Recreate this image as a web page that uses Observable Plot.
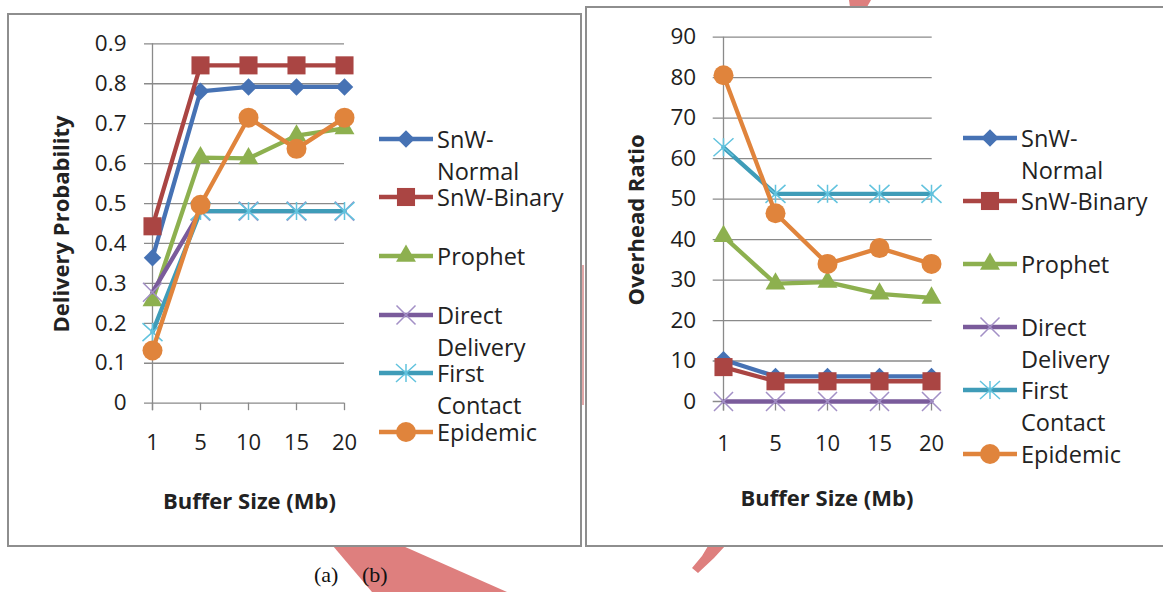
<!DOCTYPE html>
<html>
<head>
<meta charset="utf-8">
<script src="https://cdn.jsdelivr.net/npm/d3@7"></script>
<script src="https://cdn.jsdelivr.net/npm/@observablehq/plot@0.6"></script>
<style>
html, body { margin: 0; padding: 0; background: #fff; }
#page { position: relative; width: 1163px; height: 592px; overflow: hidden; font-family: "Open Sans", sans-serif; color: #222; }
.wm { position: absolute; left: 0; top: 0; width: 1163px; height: 592px; background: #de7f7e; }
.panel { position: absolute; box-sizing: border-box; border: 2px solid #8e8e8e; background: #fff; }
.plot { position: absolute; top: 0; }
.ytitle, .xtitle { position: absolute; font-weight: bold; font-size: 22px; white-space: nowrap; line-height: 1; }
.ytitle { transform: translate(-50%, -50%) rotate(-90deg); }
.xtitle { transform: translate(-50%, -50%); }
.item { position: absolute; }
.item svg { position: absolute; left: 0; }
.item .lab { position: absolute; font-size: 23.5px; line-height: 24px; white-space: nowrap; color: #222; }
.cap { position: absolute; font-family: "Liberation Serif", "Times New Roman", serif; font-size: 22px; color: #111; }
</style>
</head>
<body>
<div id="page"></div>
<script>
// ---- data ----
const buffer = [1, 5, 10, 15, 20];
const seriesNames = ["SnW-Normal", "SnW-Binary", "Prophet", "Direct Delivery", "First Contact", "Epidemic"];

// (a) Delivery Probability
const deliverySnwNormal = [0.364, 0.781, 0.792, 0.792, 0.792];
const deliverySnwBinary = [0.443, 0.846, 0.846, 0.846, 0.846];
const deliveryProphet   = [0.257, 0.615, 0.613, 0.670, 0.688];
const deliveryDirect    = [0.278, 0.481, 0.481, 0.481, 0.481];
const deliveryFirst     = [0.178, 0.481, 0.481, 0.481, 0.481];
const deliveryEpidemic  = [0.132, 0.497, 0.715, 0.637, 0.715];
const deliveryTicks = [0, 0.1, 0.2, 0.3, 0.4, 0.5, 0.6, 0.7, 0.8, 0.9];

// (b) Overhead Ratio
const overheadSnwNormal = [10.3, 6.2, 6.2, 6.2, 6.2];
const overheadSnwBinary = [8.5, 5.0, 5.0, 5.0, 5.0];
const overheadProphet   = [40.8, 29.1, 29.5, 26.6, 25.6];
const overheadDirect    = [0, 0, 0, 0, 0];
const overheadFirst     = [62.8, 51.3, 51.3, 51.3, 51.3];
const overheadEpidemic  = [80.6, 46.5, 34.0, 37.9, 34.0];
const overheadTicks = [0, 10, 20, 30, 40, 50, 60, 70, 80, 90];

const xTitle = "Buffer Size (Mb)";
const yTitleA = "Delivery Probability";
const yTitleB = "Overhead Ratio";

// ---- styles ----
const excelStar = {
  draw(ctx, size) {
    const r = Math.sqrt(size / Math.PI);
    const h = r * 0.9;
    ctx.moveTo(-r, -h); ctx.lineTo(r, h);
    ctx.moveTo(-r, h); ctx.lineTo(r, -h);
    ctx.moveTo(0, -h); ctx.lineTo(0, h);
  }
};
const styles = [
  {color: "#4672b4", symbol: "diamond2", d3sym: d3.symbolDiamond2, r: 7.9, filled: true},
  {color: "#aa4543", symbol: "square", d3sym: d3.symbolSquare, r: 10.2, filled: true},
  {color: "#8db04f", symbol: "triangle", d3sym: d3.symbolTriangle, r: 7.4, filled: true},
  {color: "#7a5b9b", mark: "#a390c6", symbol: "times", d3sym: d3.symbolTimes, r: 8.7, filled: false},
  {color: "#3f9cb8", mark: "#62c3de", symbol: excelStar, d3sym: excelStar, r: 10, filled: false},
  {color: "#e0843c", symbol: "circle", d3sym: d3.symbolCircle, r: 10, filled: true}
];
const gridColor = "#8a8a8a";

const page = document.getElementById("page");
function addDiv(cls, css, text) {
  const d = document.createElement("div");
  d.className = cls;
  Object.assign(d.style, css);
  if (text != null) d.textContent = text;
  page.appendChild(d);
  return d;
}

// watermark (decoration behind panels)
addDiv("wm", {clipPath: "polygon(849px 0px, 871px 0px, 867px 7px, 850px 7px)"});
addDiv("wm", {clipPath: "polygon(333px 546px, 403px 546px, 507px 592px, 372px 592px)"});
addDiv("wm", {clipPath: "polygon(708px 546px, 725px 546px, 714px 558px, 698px 573px, 692px 568px, 702px 556px)"});
addDiv("wm", {clipPath: "polygon(582px 265px, 584px 265px, 584px 405px, 582px 405px)", background: "#e3a8a8"});

// panels
addDiv("panel", {left: "7px", top: "13px", width: "575px", height: "534px"});
addDiv("panel", {left: "585px", top: "6px", width: "600px", height: "541px"});

function chart(seriesValues, o) {
  const marks = [
    Plot.ruleY(o.ticks, {stroke: gridColor, strokeWidth: 1.3}),
    Plot.ruleX([buffer[0]], {stroke: gridColor, strokeWidth: 1.3, insetBottom: -o.tick}),
    Plot.axisX({tickSize: o.tick, tickPadding: o.xpad, stroke: gridColor, strokeWidth: 1.3, fill: "#1e1e1e", fontSize: 22, label: null, tickFormat: d => String(d)}),
    Plot.axisY({ticks: o.ticks, tickSize: 0, tickPadding: o.ypad, fill: "#1e1e1e", fontSize: 22.5, label: null, tickFormat: d => String(d)})
  ];
  seriesValues.forEach((vals, i) => {
    const s = styles[i];
    const rows = buffer.map((b, j) => ({b, v: vals[j], series: seriesNames[i]}));
    marks.push(Plot.line(rows, {x: "b", y: "v", stroke: s.color, strokeWidth: 4.3, strokeLinejoin: "round"}));
    marks.push(Plot.dot(rows, s.filled
      ? {x: "b", y: "v", symbol: s.symbol, r: s.r, fill: s.color, stroke: "none"}
      : {x: "b", y: "v", symbol: s.symbol, r: s.r, fill: "none", stroke: s.mark, strokeWidth: 1.5}));
  });
  const svg = Plot.plot({
    width: o.width, height: 470,
    marginLeft: o.ml, marginRight: o.mr, marginTop: o.mt, marginBottom: 470 - o.bottom,
    style: {background: "transparent", overflow: "visible", fontFamily: "'Open Sans', sans-serif", color: "#222"},
    x: {type: "point", domain: buffer, padding: 0, insetLeft: o.tick},
    y: {domain: o.domain},
    marks
  });
  svg.classList.add("plot");
  svg.style.position = "absolute";
  svg.style.left = o.left + "px";
  svg.style.top = "0px";
  page.appendChild(svg);
}

chart([deliverySnwNormal, deliverySnwBinary, deliveryProphet, deliveryDirect, deliveryFirst, deliveryEpidemic],
  {left: 0, width: 360, ml: 144, mr: 16, mt: 43.3, bottom: 402.7, tick: 7.5, xpad: 24, ypad: 18, ticks: deliveryTicks, domain: [0, 0.9]});
chart([overheadSnwNormal, overheadSnwBinary, overheadProphet, overheadDirect, overheadFirst, overheadEpidemic],
  {left: 600, width: 360, ml: 112.7, mr: 28.3, mt: 36.7, bottom: 401, tick: 9.5, xpad: 24.5, ypad: 17, ticks: overheadTicks, domain: [0, 90]});

// axis titles
addDiv("ytitle", {left: "59.5px", top: "224px"}, yTitleA);
addDiv("xtitle", {left: "249.5px", top: "500px"}, xTitle);
addDiv("ytitle", {left: "635px", top: "220px"}, yTitleB);
addDiv("xtitle", {left: "827px", top: "497px"}, xTitle);

// wrap a legend label into lines that fit a given width (break at spaces or after hyphens)
const measureCtx = document.createElement("canvas").getContext("2d");
measureCtx.font = "23.5px 'Open Sans'";
function wrapLabel(name, maxWidth) {
  const tokens = name.match(/[^\s-]+-?\s*/g);
  const lines = [];
  let cur = "";
  tokens.forEach(t => {
    const trial = cur + t;
    if (cur && measureCtx.measureText(trial.trimEnd()).width > maxWidth) {
      lines.push(cur.trimEnd());
      cur = t;
    } else cur = trial;
  });
  if (cur) lines.push(cur.trimEnd());
  return lines;
}

// legends
function legend(x0, y0, step) {
  seriesNames.forEach((name, i) => {
    const s = styles[i];
    const y = y0 + i * step;
    const item = addDiv("item", {left: x0 + "px", top: (y - 16) + "px"});
    const sw = d3.create("svg").attr("width", 58).attr("height", 32);
    sw.append("line").attr("x1", 0).attr("x2", 54).attr("y1", 16).attr("y2", 16)
      .attr("stroke", s.color).attr("stroke-width", 4.3);
    const size = Math.PI * s.r * s.r;
    sw.append("path").attr("transform", "translate(27,16)")
      .attr("d", d3.symbol(s.d3sym, size)())
      .attr("fill", s.filled ? s.color : "none")
      .attr("stroke", s.filled ? "none" : s.mark)
      .attr("stroke-width", 1.5);
    item.appendChild(sw.node());
    wrapLabel(name, 132).forEach((line, k) => {
      const lab = document.createElement("div");
      lab.className = "lab";
      lab.style.left = "58px";
      lab.style.top = (4 + k * 32) + "px";
      lab.textContent = line;
      item.appendChild(lab);
    });
  });
}
legend(379, 138.6, 58.7);
legend(963, 138, 63.1);

// caption
addDiv("cap", {left: "314px", top: "562px"}, "(a)");
addDiv("cap", {left: "362px", top: "562px"}, "(b)");
</script>
</body>
</html>
